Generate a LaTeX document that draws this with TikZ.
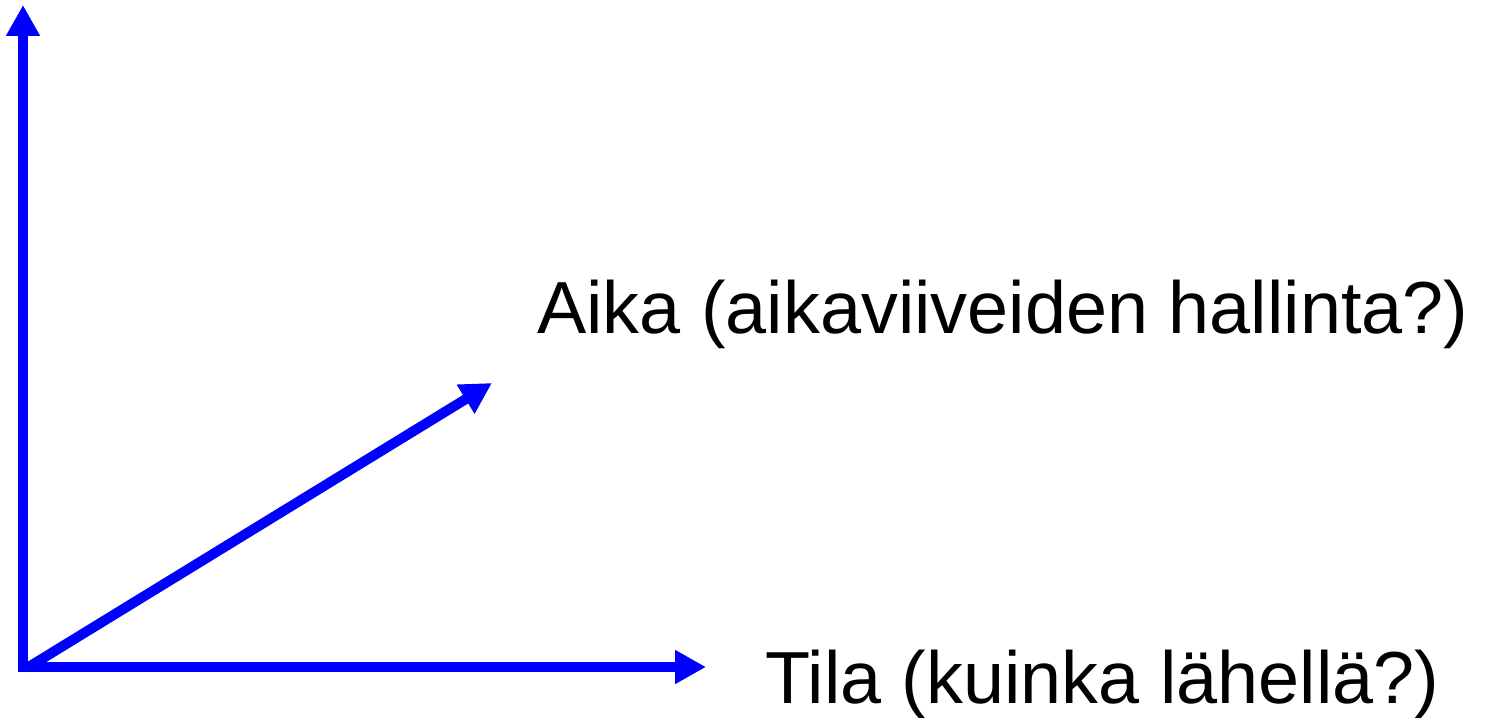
\documentclass[tikz,border=0pt]{standalone}
\usepackage{fontspec}
\setmainfont{Liberation Sans}
\usetikzlibrary{arrows.meta}
\tikzset{
  axis/.style={draw=blue, line width=5.7pt, -{Triangle[length=0.62cm, width=0.64cm]}},
  axislabel/.style={anchor=base west, inner sep=0pt, font=\fontsize{42}{50}\selectfont}
}
\begin{document}
\begin{tikzpicture}[x=0.02cm, y=-0.02cm]
\useasboundingbox (0,0) rectangle (1506,717);
\coordinate (origo) at (23,667);
\coordinate (ybot)  at (23,672);
\coordinate (ytop)  at (23,5);
\coordinate (xbot)  at (18,667);
\coordinate (xtop)  at (706,667);
\coordinate (dbot)  at (27,668);
\coordinate (dtop)  at (492,383);

\draw [axis] (ybot) -- (ytop);
\draw [axis] (xbot) -- (xtop);
\draw [axis] (dbot) -- (dtop);

\node [axislabel] (aika) at (537,333) {Aika (aikaviiveiden hallinta?)};
\node [axislabel] (tila) at (765,703) {Tila (kuinka lähellä?)};
\end{tikzpicture}
\end{document}
